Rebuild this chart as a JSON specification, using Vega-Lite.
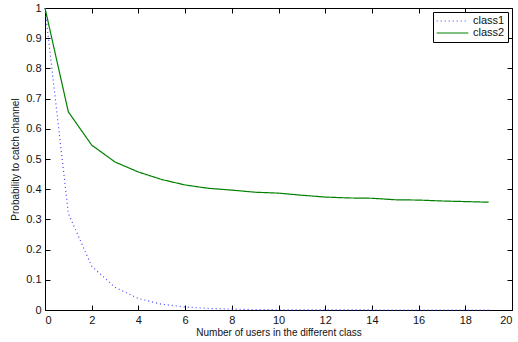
{
  "$schema": "https://vega.github.io/schema/vega-lite/v6.json",
  "autosize": "none",
  "width": 467,
  "height": 302,
  "padding": {"left": 45, "top": 8, "right": 6, "bottom": 32},
  "background": "white",
  "config": {
    "view": {"stroke": null},
    "font": "Liberation Sans",
    "axis": {
      "grid": false,
      "domainColor": "black",
      "domainWidth": 1,
      "tickColor": "black",
      "tickSize": -5,
      "tickWidth": 1,
      "labelColor": "#111",
      "labelFont": "Liberation Sans",
      "labelFontSize": 11,
      "titleFont": "Liberation Sans",
      "titleFontSize": 10,
      "titleFontWeight": "normal",
      "titleColor": "#111"
    },
    "legend": {
      "labelFont": "Liberation Sans",
      "labelFontSize": 11,
      "labelColor": "#111"
    }
  },
  "data": {
    "values": [
      {"x": 0, "p": 1, "series": "class1"},
      {"x": 1, "p": 0.32, "series": "class1"},
      {"x": 2, "p": 0.145, "series": "class1"},
      {"x": 3, "p": 0.075, "series": "class1"},
      {"x": 4, "p": 0.038, "series": "class1"},
      {"x": 5, "p": 0.019, "series": "class1"},
      {"x": 6, "p": 0.01, "series": "class1"},
      {"x": 7, "p": 0.005, "series": "class1"},
      {"x": 8, "p": 0.003, "series": "class1"},
      {"x": 9, "p": 0.0015, "series": "class1"},
      {"x": 10, "p": 0.0008, "series": "class1"},
      {"x": 11, "p": 0.0004, "series": "class1"},
      {"x": 12, "p": 0.0002, "series": "class1"},
      {"x": 13, "p": 0.0001, "series": "class1"},
      {"x": 14, "p": 0.0001, "series": "class1"},
      {"x": 15, "p": 0, "series": "class1"},
      {"x": 16, "p": 0, "series": "class1"},
      {"x": 17, "p": 0, "series": "class1"},
      {"x": 18, "p": 0, "series": "class1"},
      {"x": 19, "p": 0, "series": "class1"},
      {"x": 0, "p": 1, "series": "class2"},
      {"x": 1, "p": 0.656, "series": "class2"},
      {"x": 2, "p": 0.546, "series": "class2"},
      {"x": 3, "p": 0.49, "series": "class2"},
      {"x": 4, "p": 0.457, "series": "class2"},
      {"x": 5, "p": 0.432, "series": "class2"},
      {"x": 6, "p": 0.414, "series": "class2"},
      {"x": 7, "p": 0.403, "series": "class2"},
      {"x": 8, "p": 0.397, "series": "class2"},
      {"x": 9, "p": 0.39, "series": "class2"},
      {"x": 10, "p": 0.387, "series": "class2"},
      {"x": 11, "p": 0.38, "series": "class2"},
      {"x": 12, "p": 0.374, "series": "class2"},
      {"x": 13, "p": 0.371, "series": "class2"},
      {"x": 14, "p": 0.37, "series": "class2"},
      {"x": 15, "p": 0.365, "series": "class2"},
      {"x": 16, "p": 0.364, "series": "class2"},
      {"x": 17, "p": 0.361, "series": "class2"},
      {"x": 18, "p": 0.359, "series": "class2"},
      {"x": 19, "p": 0.357, "series": "class2"}
    ]
  },
  "layer": [
    {
      "mark": {"type": "line", "strokeWidth": 1.2},
      "encoding": {
        "x": {
          "field": "x", "type": "quantitative",
          "scale": {"domain": [0, 20], "nice": false},
          "axis": {"values": [0,2,4,6,8,10,12,14,16,18,20], "format": "d", "title": "Number of users in the different class", "labelPadding": 9, "titlePadding": 2}
        },
        "y": {
          "field": "p", "type": "quantitative",
          "scale": {"domain": [0, 1], "nice": false},
          "axis": {"values": [0,0.1,0.2,0.3,0.4,0.5,0.6,0.7,0.8,0.9,1], "format": "~g", "title": "Probability to catch channel", "labelPadding": 9, "titlePadding": 5}
        },
        "color": {
          "field": "series", "type": "nominal",
          "scale": {"domain": ["class1", "class2"], "range": ["#4444ff", "#008000"]},
          "legend": {
            "title": null,
            "orient": "top-right",
            "offset": 4,
            "symbolType": "stroke",
            "symbolSize": 1000,
            "clipHeight": 12,
            "symbolStrokeWidth": 1.2,
            "strokeColor": "black",
            "fillColor": "white",
            "padding": 3,
            "labelOffset": 4,
            "rowPadding": 0
          }
        },
        "strokeDash": {
          "field": "series", "type": "nominal",
          "scale": {"domain": ["class1", "class2"], "range": [[1, 3], [1, 0]]},
          "legend": null
        }
      }
    },
    {
      "mark": {"type": "line", "opacity": 0},
      "encoding": {
        "x": {
          "field": "x", "type": "quantitative",
          "scale": {"domain": [0, 20], "nice": false},
          "axis": {"orient": "top", "values": [0,2,4,6,8,10,12,14,16,18,20], "labels": false, "title": null}
        },
        "y": {
          "field": "p", "type": "quantitative",
          "scale": {"domain": [0, 1], "nice": false},
          "axis": {"orient": "right", "values": [0,0.1,0.2,0.3,0.4,0.5,0.6,0.7,0.8,0.9,1], "labels": false, "title": null}
        },
        "detail": {"field": "series", "type": "nominal"}
      }
    }
  ],
  "resolve": {"axis": {"x": "independent", "y": "independent"}}
}
